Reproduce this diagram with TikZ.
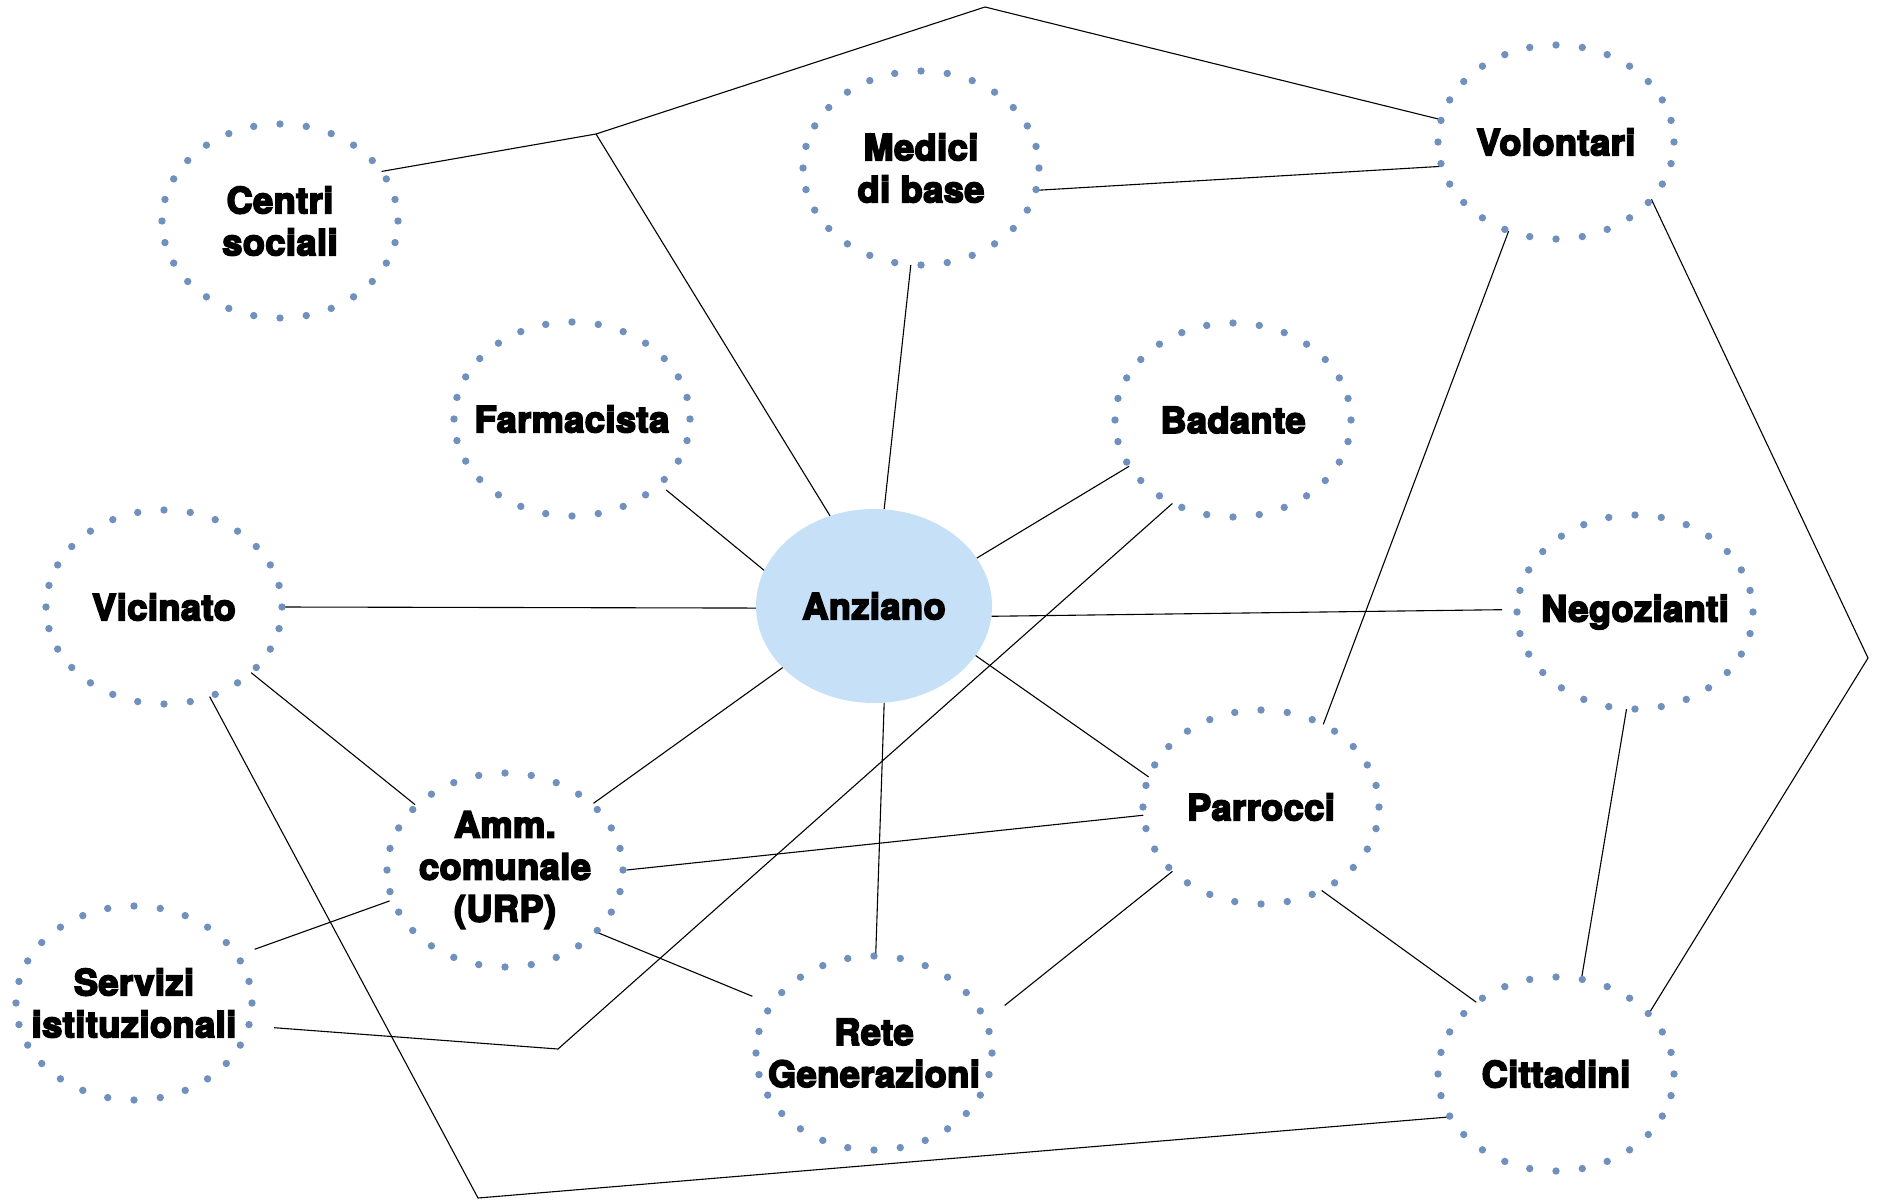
\documentclass[tikz,border=0pt]{standalone}
\usepackage{fontspec}
\setmainfont{TeX Gyre Heros}
\newfontfamily\heavyfont{TeX Gyre Heros}[FakeBold=5, LetterSpace=1.5]
\usetikzlibrary{shapes.geometric}
\definecolor{dotblue}{RGB}{112,144,190}
\definecolor{hubblue}{RGB}{198,224,248}
\begin{document}
\begin{tikzpicture}[x=1pt,y=-1pt,
  actor/.style={ellipse, minimum width=236pt, minimum height=194pt, inner sep=0pt,
    align=center, font=\fontsize{36}{42}\heavyfont\bfseries},
  hub/.style={actor, fill=hubblue},
  link/.style={draw=black, line width=1.1pt}]
\useasboundingbox (0,0) rectangle (1877,1202);

% actors around the elderly person
\node[hub]   (anziano)    at (874,606)  {Anziano};
\node[actor] (centri)     at (280,221)  {Centri\\sociali};
\node[actor] (medici)     at (921,168)  {Medici\\di base};
\node[actor] (volontari)  at (1556,142) {Volontari};
\node[actor] (farmacista) at (572,419)  {Farmacista};
\node[actor] (badante)    at (1233,420) {Badante};
\node[actor] (vicinato)   at (164,607)  {Vicinato};
\node[actor] (negozianti) at (1635,612) {Negozianti};
\node[actor] (amm)        at (505,870)  {Amm.\\comunale\\(URP)};
\node[actor] (parrocci)   at (1261,807) {Parrocci};
\node[actor] (servizi)    at (134,1003) {Servizi\\istituzionali};
\node[actor] (rete)       at (874,1053) {Rete\\Generazioni};
\node[actor] (cittadini)  at (1556,1074){Cittadini};

% bend points of the long connectors
\coordinate (j1)   at (596,134);
\coordinate (apex) at (985,7);
\coordinate (j2)   at (558,1049);
\coordinate (j3)   at (478,1198);
\coordinate (j4)   at (1868,658);

% connectors
\draw[link] (centri.26) -- (j1) -- (apex) -- (volontari.169.7);
\draw[link] (j1) -- (anziano.116.3);
\draw[link] (medici.-11.9) -- (volontari.-168.3);
\draw[link] (medici.-96.7) -- (anziano.84.6);
\draw[link] (farmacista.-37.4) -- (anziano.162.4);
\draw[link] (badante.204.7) -- (anziano.25.4);
\draw[link] (badante.-126.7) -- (j2) -- (servizi.-10.7);
\draw[link] (vicinato.0.5) -- (anziano.181.5);
\draw[link] (anziano.-5.8) -- (negozianti.179.5);
\draw[link] (anziano.-26.3) -- (parrocci.165.3);
\draw[link] (anziano.214.6) -- (amm.37.6);
\draw[link] (anziano.-84.7) -- (rete.89.4);
\draw[link] (vicinato.-37) -- (amm.144.3);
\draw[link] (vicinato.-63.2) -- (j3) -- (cittadini.202.7);
\draw[link] (amm.195.4) -- (servizi.24.2);
\draw[link] (amm.0) -- (parrocci.184.7);
\draw[link] (amm.-34.1) -- (rete.155.6);
\draw[link] (parrocci.216.2) -- (rete.20.9);
\draw[link] (parrocci.-54.6) -- (cittadini.138.1);
\draw[link] (parrocci.53.9) -- (volontari.-118.3);
\draw[link] (negozianti.-95.4) -- (cittadini.75.6);
\draw[link] (volontari.-31.2) -- (j4) -- (cittadini.33.1);

% dotted rings of the actors
\foreach \n in {centri,medici,volontari,farmacista,badante,vicinato,negozianti,amm,parrocci,servizi,rete,cittadini}{
  \foreach \i [evaluate=\i as \a using \i*360/28] in {0,...,27}
    \fill[dotblue, shift={(\n.center)}] (\a:118 and 97) circle (3.7pt);
}
\end{tikzpicture}
\end{document}
